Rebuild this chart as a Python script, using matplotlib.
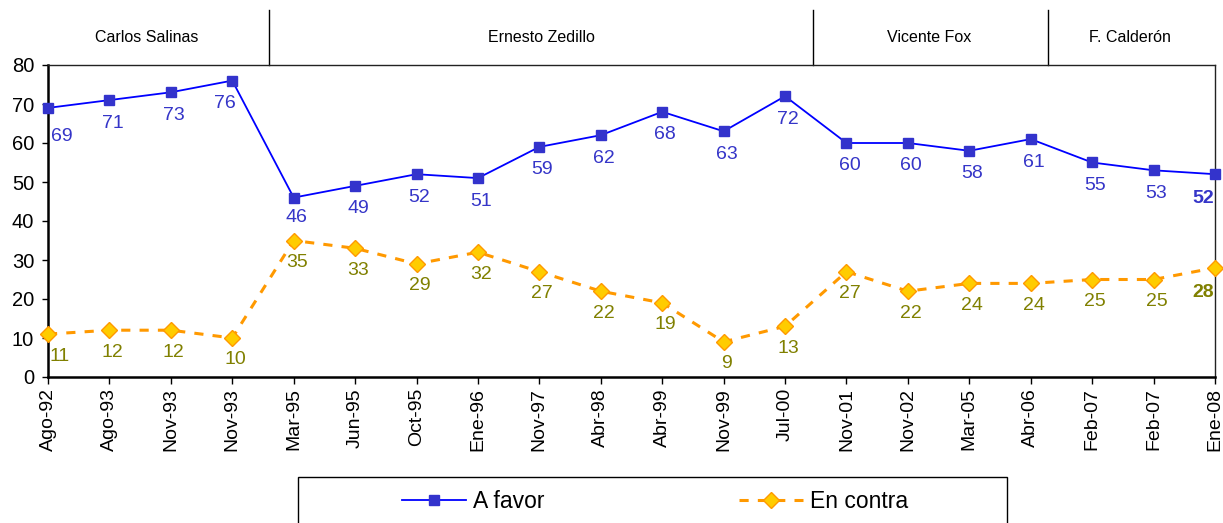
import matplotlib
matplotlib.use("Agg")
import matplotlib.pyplot as plt
import numpy as np
from matplotlib.patches import Rectangle

plt.rcParams['font.family'] = ['Liberation Sans', 'DejaVu Sans']

categories = ["Ago-92", "Ago-93", "Nov-93", "Nov-93", "Mar-95", "Jun-95", "Oct-95",
              "Ene-96", "Nov-97", "Abr-98", "Abr-99", "Nov-99", "Jul-00", "Nov-01",
              "Nov-02", "Mar-05", "Abr-06", "Feb-07", "Feb-07", "Ene-08"]
a_favor = [69, 71, 73, 76, 46, 49, 52, 51, 59, 62, 68, 63, 72, 60, 60, 58, 61, 55, 53, 52]
en_contra = [11, 12, 12, 10, 35, 33, 29, 32, 27, 22, 19, 9, 13, 27, 22, 24, 24, 25, 25, 28]
presidents = ["Carlos Salinas", "Ernesto Zedillo", "Vicente Fox", "F. Calderón"]
y_ticks = [0, 10, 20, 30, 40, 50, 60, 70, 80]

# layout (positions of header dividers / text in category units)
divider_pos = [3.60, 12.455, 16.28]
pres_text_pos = [1.6, 8.03, 14.34, 17.62]

W, H = 1223, 523
fig = plt.figure(figsize=(W / 100, H / 100), dpi=100)
ax = fig.add_axes([48 / W, 1 - 377 / H, (1215 - 48) / W, (377 - 65) / H])

x = np.arange(len(categories))
ax.set_xlim(0, len(categories) - 1)
ax.set_ylim(0, 80)

l1, = ax.plot(x, a_favor, color='#0000FF', lw=1.3, marker='s', ms=6.5,
              mfc='#3333CC', mec='#3333CC', clip_on=False, zorder=4, label='A favor')
l2, = ax.plot(x, en_contra, color='#FF9900', lw=2.2, ls=(0, (3, 3)), marker='D', ms=8,
              mfc='#FFCC00', mec='#FF9900', mew=1, clip_on=False, zorder=3, label='En contra')

blue_c = '#3535C8'
olive_c = '#808000'
n = len(categories)
for i, v in enumerate(a_favor):
    dx, dy = 3, -23
    weight = 'normal'
    if i == 0:
        dx, dy = 14, -29
    elif i == 3:
        dx = -7
    elif i == 4:
        dy = -20
    elif i == n - 1:
        dx, dy, weight = -12, -24, 'bold'
    ax.annotate(str(v), (x[i], v), xytext=(dx, dy), textcoords='offset pixels',
                ha='center', va='center', color=blue_c, fontsize=14, fontweight=weight,
                annotation_clip=False, zorder=5)
for i, v in enumerate(en_contra):
    dx, dy = 3, -22
    weight = 'normal'
    if i == 0:
        dx, dy = 12, -22
    elif i == n - 1:
        dx, dy, weight = -12, -25, 'bold'
    ax.annotate(str(v), (x[i], v), xytext=(dx, dy), textcoords='offset pixels',
                ha='center', va='center', color=olive_c, fontsize=14, fontweight=weight,
                annotation_clip=False, zorder=5)

ax.set_yticks(y_ticks)
ax.set_xticks(x)
ax.set_xticklabels(categories, rotation=90, fontsize=14)
ax.tick_params(axis='y', labelsize=14.5, length=4, width=1, direction='out', pad=6)
ax.tick_params(axis='x', length=5, width=1, direction='out', pad=3)

for s in ['left', 'bottom']:
    ax.spines[s].set_linewidth(1.8)
    ax.spines[s].set_color('black')
for s in ['top', 'right']:
    ax.spines[s].set_linewidth(1.0)
    ax.spines[s].set_color('#222222')

# header band
trans = ax.get_xaxis_transform()
top_ax = 1 + 55 / 312
for d in divider_pos:
    ax.plot([d, d], [1, top_ax], transform=trans, color='black', lw=1, clip_on=False)
for p, name in zip(pres_text_pos, presidents):
    ax.text(p, 1 + 27 / 312, name, transform=trans, ha='center', va='center', fontsize=11.5)

# legend
fig.patches.append(Rectangle((298 / W, -0.05), 709 / W, (1 - 477 / H) + 0.05,
                             transform=fig.transFigure, fill=False, ec='black', lw=1))
fig.legend([l1, l2], ['A favor', 'En contra'], loc='center',
           bbox_to_anchor=(655 / W, 1 - 502 / H), ncol=2, frameon=False,
           prop={'size': 16.5},
           handlelength=2.8, handletextpad=0.3, columnspacing=8.5)

fig.savefig('out.png', dpi=100)
